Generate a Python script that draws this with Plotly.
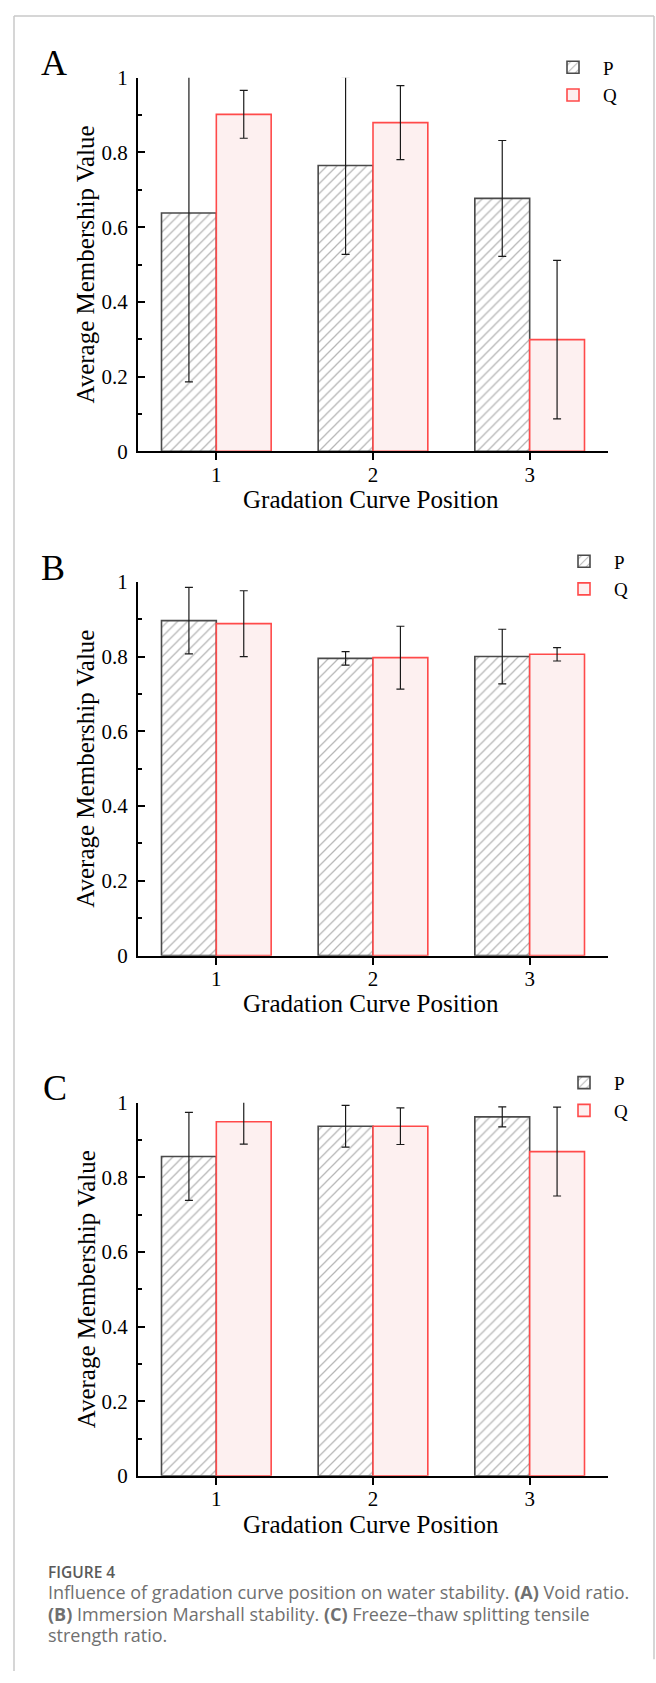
import plotly.graph_objects as go

W, H = 656, 1683

# ---------------- data ----------------
categories = [1, 2, 3]
tick_labels = ["1", "2", "3"]

A_P = [0.638, 0.765, 0.677]
A_P_err = [0.452, 0.238, 0.155]
A_Q = [0.902, 0.880, 0.299]
A_Q_err = [0.064, 0.099, 0.212]

B_P = [0.896, 0.795, 0.800]
B_P_err = [0.089, 0.018, 0.073]
B_Q = [0.888, 0.797, 0.806]
B_Q_err = [0.088, 0.084, 0.018]

C_P = [0.856, 0.937, 0.962]
C_P_err = [0.118, 0.056, 0.027]
C_Q = [0.949, 0.937, 0.869]
C_Q_err = [0.060, 0.049, 0.119]

panel_letters = ["A", "B", "C"]
x_title = "Gradation Curve Position"
y_title = "Average Membership Value"

caption_head = "FIGURE 4"
caption_lines = [
    "Influence of gradation curve position on water stability. "
    "<b>(A)</b> Void ratio.",
    "<b>(B)</b> Immersion Marshall stability. <b>(C)</b> "
    "Freeze\u2013thaw splitting tensile",
    "strength ratio.",
]

# ---------------- helpers ----------------
def fx(px):
    return px / W

def fy(px):
    return 1 - px / H

SERIF = "Liberation Serif, Times New Roman, serif"

panels = [
    dict(top=66.7, bot=445.7, P=A_P, Pe=A_P_err, Q=A_Q, Qe=A_Q_err,
         letter=(54, 52), leg_x=543, leg_y=37),
    dict(top=578.0, bot=957.3, P=B_P, Pe=B_P_err, Q=B_Q, Qe=B_Q_err,
         letter=(53, 564), leg_x=554, leg_y=538),
    dict(top=1106.5, bot=1485.0, P=C_P, Pe=C_P_err, Q=C_Q, Qe=C_Q_err,
         letter=(55, 1092), leg_x=554, leg_y=1067),
]
X_LEFT, X_RIGHT = 138, 608

fig = go.Figure()
annotations = []
layout_axes = {}

for i, p in enumerate(panels):
    n = "" if i == 0 else str(i + 1)
    xa, ya = "x" + n, "y" + n
    leg = "legend" + n
    fig.add_trace(go.Bar(
        x=categories, y=p["P"], name="P", xaxis=xa, yaxis=ya, legend=leg,
        marker=dict(color="white", line=dict(color="#4a4a4a", width=1.6),
                    pattern=dict(shape="/", fgcolor="#6e6e6e", bgcolor="white",
                                 size=7, solidity=0.18)),
        error_y=dict(type="data", array=p["Pe"], color="#1a1a1a",
                     thickness=1.2, width=4),
    ))
    fig.add_trace(go.Bar(
        x=categories, y=p["Q"], name="Q", xaxis=xa, yaxis=ya, legend=leg,
        marker=dict(color="#fdf0f0", line=dict(color="#ff4a4a", width=1.6)),
        error_y=dict(type="data", array=p["Qe"], color="#1a1a1a",
                     thickness=1.2, width=4),
    ))
    layout_axes["xaxis" + n] = dict(
        domain=[fx(X_LEFT), fx(X_RIGHT)], anchor=ya, range=[0.5, 3.5],
        tickmode="array", tickvals=categories, ticktext=tick_labels,
        ticks="outside", ticklen=7, tickwidth=2, tickcolor="black",
        showline=True, linecolor="black", linewidth=2,
        showgrid=False, zeroline=False,
        tickfont=dict(family=SERIF, size=21, color="black"),
        ticklabelstandoff=-4,
        fixedrange=True,
    )
    layout_axes["yaxis" + n] = dict(
        domain=[fy(p["bot"]), fy(p["top"])], anchor=xa, range=[0, 1],
        tickmode="linear", tick0=0, dtick=0.2,
        ticks="inside", ticklen=7, tickwidth=2, tickcolor="black",
        minor=dict(ticks="inside", ticklen=3.5, tickwidth=1.5, dtick=0.1,
                   tick0=0, tickcolor="black", showgrid=False),
        showline=True, linecolor="black", linewidth=2,
        showgrid=False, zeroline=False,
        tickfont=dict(family=SERIF, size=21, color="black"),
        ticklabelstandoff=4,
        fixedrange=True,
    )
    layout_axes[leg] = dict(
        x=fx(p["leg_x"]), y=fy(p["leg_y"]), xanchor="left", yanchor="top",
        font=dict(family=SERIF, size=19, color="black"),
        bgcolor="rgba(0,0,0,0)", borderwidth=0, tracegroupgap=0,
        itemwidth=50,
        itemclick=False, itemdoubleclick=False,
    )
    annotations.append(dict(
        text=panel_letters[i], x=fx(p["letter"][0]), y=fy(p["letter"][1]),
        xref="paper", yref="paper", xanchor="center", yanchor="middle",
        showarrow=False, font=dict(family=SERIF, size=36, color="black")))
    annotations.append(dict(
        text=y_title, x=fx(86), y=fy((p["top"] + p["bot"]) / 2),
        xref="paper", yref="paper", xanchor="center", yanchor="middle",
        textangle=-90, showarrow=False,
        font=dict(family=SERIF, size=25, color="black")))
    annotations.append(dict(
        text=x_title, x=fx(371), y=fy(p["bot"] + 49),
        xref="paper", yref="paper", xanchor="center", yanchor="middle",
        showarrow=False, font=dict(family=SERIF, size=25, color="black")))

# caption: one text block (base size sets line pitch, spans set glyph size)
CAP = "Open Sans, Noto Sans, sans-serif"
cap_text = ('<span style="font-size:15.5px;font-weight:600;color:#5a5a5a">'
            + caption_head + "</span><br>"
            + "<br>".join('<span style="font-size:18px">' + s + "</span>"
                          for s in caption_lines))
annotations.append(dict(
    text=cap_text, x=fx(46), y=fy(1615), xref="paper", yref="paper",
    xanchor="left", yanchor="middle", showarrow=False, align="left",
    font=dict(family=CAP, size=16.5, color="#707070")))

# outer page frame
frame_col = "#c9c9c9"
shapes = [
    dict(type="line", xref="paper", yref="paper", x0=fx(14), x1=fx(14),
         y0=fy(4), y1=fy(H), line=dict(color=frame_col, width=1.5)),
    dict(type="line", xref="paper", yref="paper", x0=fx(14), x1=fx(654),
         y0=fy(4), y1=fy(4), line=dict(color=frame_col, width=1.5)),
    dict(type="line", xref="paper", yref="paper", x0=fx(654), x1=fx(654),
         y0=fy(4), y1=fy(1671), line=dict(color=frame_col, width=1.5)),
]

fig.update_layout(
    width=W, height=H, autosize=False,
    margin=dict(l=0, r=0, t=0, b=0),
    paper_bgcolor="white", plot_bgcolor="white",
    barmode="group", bargap=0.3, bargroupgap=0,
    annotations=annotations, shapes=shapes,
    **layout_axes,
)

fig.write_html(
    "out.html",
    config={"displayModeBar": False},
    post_script="document.body.style.margin='0';"
                "document.documentElement.style.overflow='hidden';",
)
